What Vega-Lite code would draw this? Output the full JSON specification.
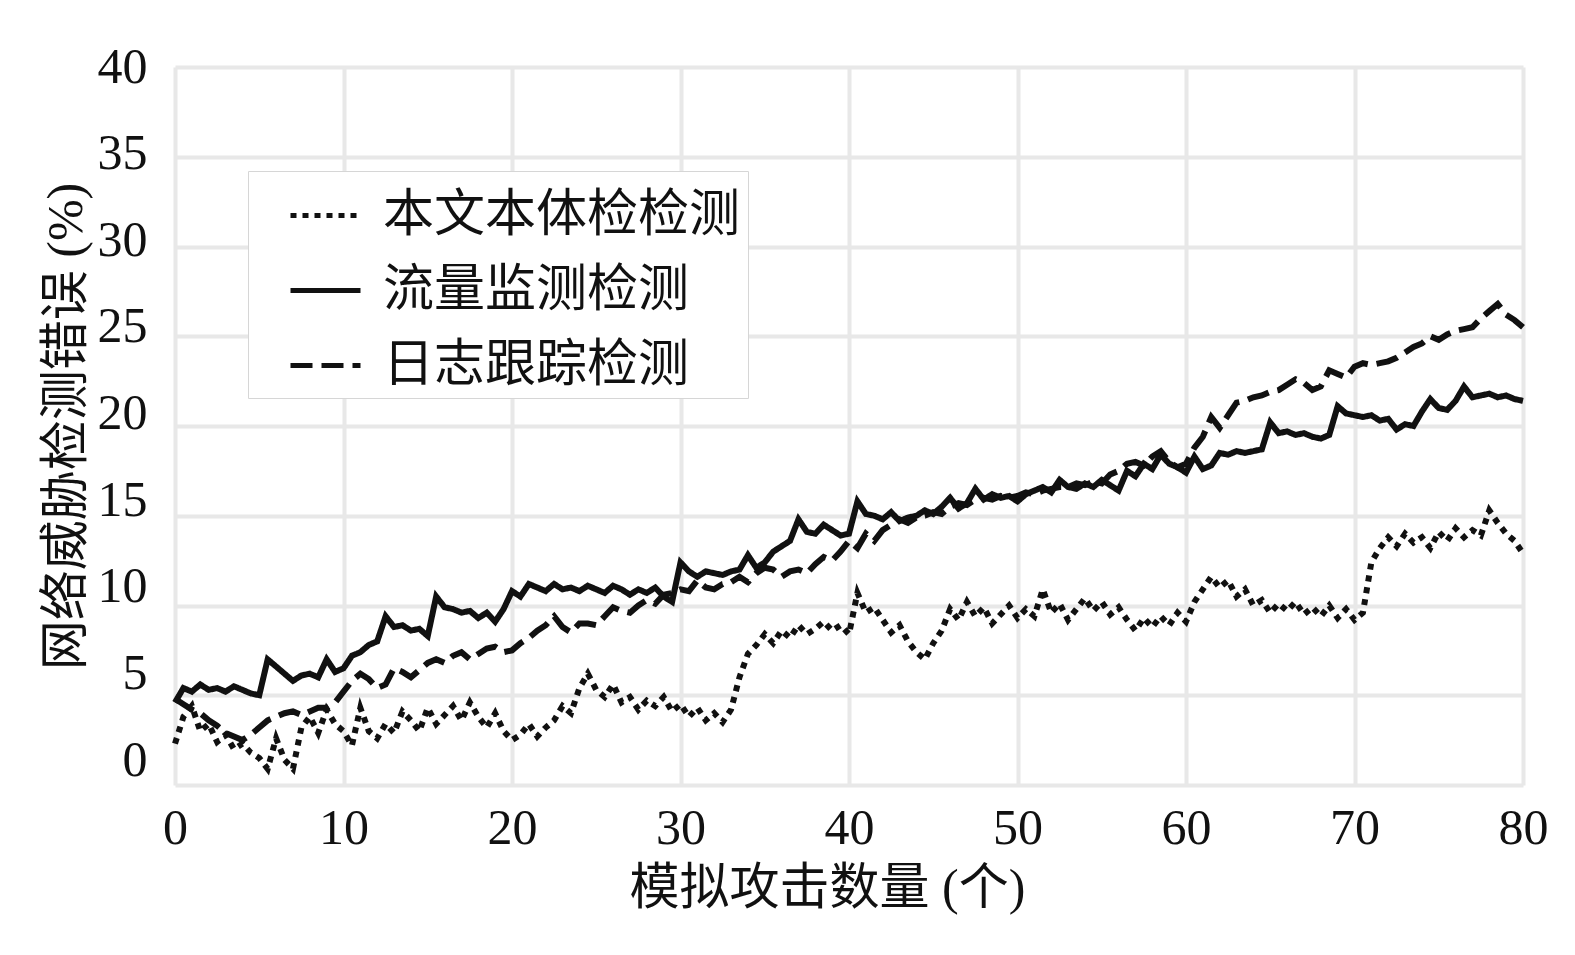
{
"$schema": "https://vega.github.io/schema/vega-lite/v6.json",
"width": 1348, "height": 718,
"autosize": {"type": "none"},
"padding": {"left": 175, "top": 67, "right": 52, "bottom": 170},
"background": "white",
"config": {"view": {"stroke": null}},
"datasets": {
"dotted": [
{"x":0,"y":2.3},{"x":0.5,"y":3.8},{"x":1,"y":4.4},{"x":1.5,"y":3.0},{"x":2,"y":3.4},{"x":2.5,"y":2.4},{"x":3,"y":2.8},{"x":3.5,"y":2.0},{"x":4,"y":2.3},{"x":4.5,"y":1.8},
{"x":5,"y":1.5},{"x":5.5,"y":0.9},{"x":6,"y":2.6},{"x":6.5,"y":1.4},{"x":7,"y":0.9},{"x":7.5,"y":3.2},{"x":8,"y":3.8},{"x":8.5,"y":2.9},{"x":9,"y":4.2},{"x":9.5,"y":3.4},
{"x":10,"y":3.0},{"x":10.5,"y":2.2},{"x":11,"y":4.3},{"x":11.5,"y":3.0},{"x":12,"y":2.6},{"x":12.5,"y":3.4},{"x":13,"y":2.9},{"x":13.5,"y":4.1},{"x":14,"y":3.6},{"x":14.5,"y":3.0},
{"x":15,"y":4.3},{"x":15.5,"y":3.4},{"x":16,"y":3.9},{"x":16.5,"y":4.4},{"x":17,"y":3.6},{"x":17.5,"y":4.6},{"x":18,"y":3.8},{"x":18.5,"y":3.2},{"x":19,"y":4.0},{"x":19.5,"y":3.0},
{"x":20,"y":2.5},{"x":20.5,"y":2.8},{"x":21,"y":3.4},{"x":21.5,"y":2.7},{"x":22,"y":3.2},{"x":22.5,"y":3.6},{"x":23,"y":4.4},{"x":23.5,"y":4.0},{"x":24,"y":5.4},{"x":24.5,"y":6.2},
{"x":25,"y":5.3},{"x":25.5,"y":4.9},{"x":26,"y":5.6},{"x":26.5,"y":4.6},{"x":27,"y":4.9},{"x":27.5,"y":4.2},{"x":28,"y":4.7},{"x":28.5,"y":4.4},{"x":29,"y":4.9},{"x":29.5,"y":4.1},
{"x":30,"y":4.5},{"x":30.5,"y":3.8},{"x":31,"y":4.3},{"x":31.5,"y":3.6},{"x":32,"y":4.0},{"x":32.5,"y":3.5},{"x":33,"y":4.2},{"x":33.5,"y":6.0},{"x":34,"y":7.3},{"x":34.5,"y":7.8},
{"x":35,"y":8.4},{"x":35.5,"y":7.9},{"x":36,"y":8.6},{"x":36.5,"y":8.2},{"x":37,"y":8.9},{"x":37.5,"y":8.4},{"x":38,"y":8.7},{"x":38.5,"y":9.1},{"x":39,"y":8.6},{"x":39.5,"y":8.9},
{"x":40,"y":8.4},{"x":40.5,"y":10.7},{"x":41,"y":9.6},{"x":41.5,"y":9.9},{"x":42,"y":9.2},{"x":42.5,"y":8.5},{"x":43,"y":8.9},{"x":43.5,"y":8.0},{"x":44,"y":7.4},{"x":44.5,"y":7.0},
{"x":45,"y":7.9},{"x":45.5,"y":8.6},{"x":46,"y":9.8},{"x":46.5,"y":9.2},{"x":47,"y":10.2},{"x":47.5,"y":9.4},{"x":48,"y":9.9},{"x":48.5,"y":9.0},{"x":49,"y":9.5},{"x":49.5,"y":10.0},
{"x":50,"y":9.3},{"x":50.5,"y":9.8},{"x":51,"y":9.4},{"x":51.5,"y":10.9},{"x":52,"y":9.6},{"x":52.5,"y":10.1},{"x":53,"y":9.2},{"x":53.5,"y":9.8},{"x":54,"y":10.4},{"x":54.5,"y":9.7},
{"x":55,"y":10.2},{"x":55.5,"y":9.5},{"x":56,"y":9.9},{"x":56.5,"y":9.2},{"x":57,"y":8.6},{"x":57.5,"y":9.3},{"x":58,"y":8.8},{"x":58.5,"y":9.4},{"x":59,"y":8.9},{"x":59.5,"y":9.6},
{"x":60,"y":9.1},{"x":60.5,"y":10.2},{"x":61,"y":10.9},{"x":61.5,"y":11.6},{"x":62,"y":11.0},{"x":62.5,"y":11.4},{"x":63,"y":10.5},{"x":63.5,"y":10.9},{"x":64,"y":10.0},{"x":64.5,"y":10.3},
{"x":65,"y":9.6},{"x":65.5,"y":10.1},{"x":66,"y":9.7},{"x":66.5,"y":10.2},{"x":67,"y":9.5},{"x":67.5,"y":9.9},{"x":68,"y":9.4},{"x":68.5,"y":10.0},{"x":69,"y":9.3},{"x":69.5,"y":9.8},
{"x":70,"y":9.2},{"x":70.5,"y":9.6},{"x":71,"y":12.4},{"x":71.5,"y":13.2},{"x":72,"y":13.8},{"x":72.5,"y":13.3},{"x":73,"y":14.0},{"x":73.5,"y":13.5},{"x":74,"y":13.8},{"x":74.5,"y":13.2},
{"x":75,"y":14.1},{"x":75.5,"y":13.6},{"x":76,"y":14.3},{"x":76.5,"y":13.8},{"x":77,"y":14.2},{"x":77.5,"y":13.9},{"x":78,"y":15.3},{"x":78.5,"y":14.6},{"x":79,"y":14.0},{"x":79.5,"y":13.6},
{"x":80,"y":12.9}
],
"solid": [
{"x":0,"y":4.6},{"x":0.5,"y":5.4},{"x":1,"y":5.2},{"x":1.5,"y":5.6},{"x":2,"y":5.3},{"x":2.5,"y":5.4},{"x":3,"y":5.2},{"x":3.5,"y":5.5},{"x":4,"y":5.3},{"x":4.5,"y":5.1},
{"x":5,"y":5.0},{"x":5.5,"y":7.0},{"x":6,"y":6.6},{"x":6.5,"y":6.2},{"x":7,"y":5.8},{"x":7.5,"y":6.1},{"x":8,"y":6.2},{"x":8.5,"y":6.0},{"x":9,"y":7.0},{"x":9.5,"y":6.3},
{"x":10,"y":6.5},{"x":10.5,"y":7.2},{"x":11,"y":7.4},{"x":11.5,"y":7.8},{"x":12,"y":8.0},{"x":12.5,"y":9.4},{"x":13,"y":8.8},{"x":13.5,"y":8.9},{"x":14,"y":8.6},{"x":14.5,"y":8.7},
{"x":15,"y":8.3},{"x":15.5,"y":10.5},{"x":16,"y":9.9},{"x":16.5,"y":9.8},{"x":17,"y":9.6},{"x":17.5,"y":9.7},{"x":18,"y":9.3},{"x":18.5,"y":9.6},{"x":19,"y":9.1},{"x":19.5,"y":9.8},
{"x":20,"y":10.8},{"x":20.5,"y":10.5},{"x":21,"y":11.2},{"x":21.5,"y":11.0},{"x":22,"y":10.8},{"x":22.5,"y":11.2},{"x":23,"y":10.9},{"x":23.5,"y":11.0},{"x":24,"y":10.8},{"x":24.5,"y":11.1},
{"x":25,"y":10.9},{"x":25.5,"y":10.7},{"x":26,"y":11.1},{"x":26.5,"y":10.9},{"x":27,"y":10.6},{"x":27.5,"y":10.9},{"x":28,"y":10.7},{"x":28.5,"y":11.0},{"x":29,"y":10.5},{"x":29.5,"y":10.2},
{"x":30,"y":12.4},{"x":30.5,"y":11.9},{"x":31,"y":11.6},{"x":31.5,"y":11.9},{"x":32,"y":11.8},{"x":32.5,"y":11.7},{"x":33,"y":11.9},{"x":33.5,"y":12.0},{"x":34,"y":12.8},{"x":34.5,"y":12.1},
{"x":35,"y":12.4},{"x":35.5,"y":13.0},{"x":36,"y":13.3},{"x":36.5,"y":13.6},{"x":37,"y":14.8},{"x":37.5,"y":14.1},{"x":38,"y":14.0},{"x":38.5,"y":14.5},{"x":39,"y":14.2},{"x":39.5,"y":13.9},
{"x":40,"y":14.0},{"x":40.5,"y":15.8},{"x":41,"y":15.1},{"x":41.5,"y":15.0},{"x":42,"y":14.8},{"x":42.5,"y":15.2},{"x":43,"y":14.7},{"x":43.5,"y":14.9},{"x":44,"y":15.0},{"x":44.5,"y":15.3},
{"x":45,"y":15.1},{"x":45.5,"y":15.5},{"x":46,"y":16.0},{"x":46.5,"y":15.4},{"x":47,"y":15.7},{"x":47.5,"y":16.5},{"x":48,"y":15.9},{"x":48.5,"y":16.2},{"x":49,"y":16.0},{"x":49.5,"y":16.1},
{"x":50,"y":15.8},{"x":50.5,"y":16.2},{"x":51,"y":16.4},{"x":51.5,"y":16.6},{"x":52,"y":16.3},{"x":52.5,"y":17.0},{"x":53,"y":16.6},{"x":53.5,"y":16.5},{"x":54,"y":16.8},{"x":54.5,"y":16.6},
{"x":55,"y":17.0},{"x":55.5,"y":16.7},{"x":56,"y":16.4},{"x":56.5,"y":17.5},{"x":57,"y":17.2},{"x":57.5,"y":17.9},{"x":58,"y":17.6},{"x":58.5,"y":18.4},{"x":59,"y":17.9},{"x":59.5,"y":17.7},
{"x":60,"y":17.4},{"x":60.5,"y":18.3},{"x":61,"y":17.6},{"x":61.5,"y":17.8},{"x":62,"y":18.5},{"x":62.5,"y":18.4},{"x":63,"y":18.6},{"x":63.5,"y":18.5},{"x":64,"y":18.6},{"x":64.5,"y":18.7},
{"x":65,"y":20.2},{"x":65.5,"y":19.6},{"x":66,"y":19.7},{"x":66.5,"y":19.5},{"x":67,"y":19.6},{"x":67.5,"y":19.4},{"x":68,"y":19.3},{"x":68.5,"y":19.5},{"x":69,"y":21.1},{"x":69.5,"y":20.7},
{"x":70,"y":20.6},{"x":70.5,"y":20.5},{"x":71,"y":20.6},{"x":71.5,"y":20.3},{"x":72,"y":20.4},{"x":72.5,"y":19.8},{"x":73,"y":20.1},{"x":73.5,"y":20.0},{"x":74,"y":20.8},{"x":74.5,"y":21.5},
{"x":75,"y":21.0},{"x":75.5,"y":20.9},{"x":76,"y":21.4},{"x":76.5,"y":22.2},{"x":77,"y":21.6},{"x":77.5,"y":21.7},{"x":78,"y":21.8},{"x":78.5,"y":21.6},{"x":79,"y":21.7},{"x":79.5,"y":21.5},
{"x":80,"y":21.4}
],
"dashed": [
{"x":0,"y":4.8},{"x":0.5,"y":4.5},{"x":1,"y":4.2},{"x":1.5,"y":4.0},{"x":2,"y":3.6},{"x":2.5,"y":3.3},{"x":3,"y":2.9},{"x":3.5,"y":2.7},{"x":4,"y":2.5},{"x":4.5,"y":2.8},
{"x":5,"y":3.2},{"x":5.5,"y":3.6},{"x":6,"y":3.8},{"x":6.5,"y":4.0},{"x":7,"y":4.1},{"x":7.5,"y":3.9},{"x":8,"y":4.1},{"x":8.5,"y":4.3},{"x":9,"y":4.3},{"x":9.5,"y":4.6},
{"x":10,"y":5.2},{"x":10.5,"y":5.8},{"x":11,"y":6.2},{"x":11.5,"y":5.9},{"x":12,"y":5.4},{"x":12.5,"y":5.6},{"x":13,"y":6.5},{"x":13.5,"y":6.3},{"x":14,"y":6.0},{"x":14.5,"y":6.4},
{"x":15,"y":6.8},{"x":15.5,"y":7.0},{"x":16,"y":6.8},{"x":16.5,"y":7.2},{"x":17,"y":7.4},{"x":17.5,"y":7.0},{"x":18,"y":7.3},{"x":18.5,"y":7.6},{"x":19,"y":7.7},{"x":19.5,"y":7.4},
{"x":20,"y":7.5},{"x":20.5,"y":7.9},{"x":21,"y":8.2},{"x":21.5,"y":8.6},{"x":22,"y":8.9},{"x":22.5,"y":9.4},{"x":23,"y":8.8},{"x":23.5,"y":8.5},{"x":24,"y":9.0},{"x":24.5,"y":9.0},
{"x":25,"y":8.9},{"x":25.5,"y":9.4},{"x":26,"y":9.9},{"x":26.5,"y":9.7},{"x":27,"y":9.6},{"x":27.5,"y":10.0},{"x":28,"y":10.3},{"x":28.5,"y":10.1},{"x":29,"y":10.6},{"x":29.5,"y":10.7},
{"x":30,"y":10.9},{"x":30.5,"y":10.8},{"x":31,"y":11.4},{"x":31.5,"y":11.0},{"x":32,"y":10.9},{"x":32.5,"y":11.2},{"x":33,"y":11.3},{"x":33.5,"y":11.6},{"x":34,"y":11.3},{"x":34.5,"y":11.8},
{"x":35,"y":12.1},{"x":35.5,"y":12.0},{"x":36,"y":11.6},{"x":36.5,"y":11.9},{"x":37,"y":12.0},{"x":37.5,"y":11.8},{"x":38,"y":12.3},{"x":38.5,"y":12.7},{"x":39,"y":12.5},{"x":39.5,"y":13.0},
{"x":40,"y":13.6},{"x":40.5,"y":13.2},{"x":41,"y":14.0},{"x":41.5,"y":13.6},{"x":42,"y":14.2},{"x":42.5,"y":14.5},{"x":43,"y":14.8},{"x":43.5,"y":14.6},{"x":44,"y":14.9},{"x":44.5,"y":15.0},
{"x":45,"y":15.2},{"x":45.5,"y":15.1},{"x":46,"y":15.5},{"x":46.5,"y":15.7},{"x":47,"y":15.6},{"x":47.5,"y":15.9},{"x":48,"y":16.0},{"x":48.5,"y":15.9},{"x":49,"y":16.1},{"x":49.5,"y":16.0},
{"x":50,"y":16.1},{"x":50.5,"y":16.3},{"x":51,"y":16.2},{"x":51.5,"y":16.4},{"x":52,"y":16.5},{"x":52.5,"y":16.6},{"x":53,"y":16.6},{"x":53.5,"y":16.8},{"x":54,"y":16.7},{"x":54.5,"y":16.9},
{"x":55,"y":16.8},{"x":55.5,"y":17.3},{"x":56,"y":17.5},{"x":56.5,"y":17.9},{"x":57,"y":18.0},{"x":57.5,"y":17.8},{"x":58,"y":18.3},{"x":58.5,"y":18.6},{"x":59,"y":18.0},{"x":59.5,"y":17.7},
{"x":60,"y":17.9},{"x":60.5,"y":18.8},{"x":61,"y":19.4},{"x":61.5,"y":20.5},{"x":62,"y":19.9},{"x":62.5,"y":20.6},{"x":63,"y":21.3},{"x":63.5,"y":21.4},{"x":64,"y":21.6},{"x":64.5,"y":21.7},
{"x":65,"y":21.9},{"x":65.5,"y":22.0},{"x":66,"y":22.3},{"x":66.5,"y":22.6},{"x":67,"y":22.4},{"x":67.5,"y":22.0},{"x":68,"y":22.2},{"x":68.5,"y":23.1},{"x":69,"y":22.9},{"x":69.5,"y":22.7},
{"x":70,"y":23.3},{"x":70.5,"y":23.5},{"x":71,"y":23.4},{"x":71.5,"y":23.5},{"x":72,"y":23.6},{"x":72.5,"y":23.8},{"x":73,"y":24.1},{"x":73.5,"y":24.4},{"x":74,"y":24.6},{"x":74.5,"y":25.0},
{"x":75,"y":24.8},{"x":75.5,"y":25.1},{"x":76,"y":25.3},{"x":76.5,"y":25.4},{"x":77,"y":25.5},{"x":77.5,"y":26.0},{"x":78,"y":26.4},{"x":78.5,"y":26.8},{"x":79,"y":26.2},{"x":79.5,"y":25.9},
{"x":80,"y":25.5}
]
},
"encoding": {
"x": {"field": "x", "type": "quantitative",
 "scale": {"domain": [0, 80], "nice": false, "zero": false},
 "axis": {"values": [0,10,20,30,40,50,60,70,80], "grid": true, "gridColor": "#e8e8e8", "gridWidth": 4,
  "domain": false, "ticks": false, "labelFlush": false,
  "labelFont": "Liberation Serif", "labelFontSize": 50, "labelColor": "#111", "labelPadding": 18,
  "title": "模拟攻击数量 (个)", "titleFont": "Liberation Serif, Noto Sans CJK SC", "titleFontSize": 50,
  "titleFontWeight": "normal", "titleColor": "#111", "titlePadding": 10, "titleX": 652}},
"y": {"field": "y", "type": "quantitative",
 "scale": {"domain": [0, 40], "nice": false},
 "axis": {"values": [0,5,10,15,20,25,30,35,40], "grid": true, "gridColor": "#e8e8e8", "gridWidth": 4,
  "domain": false, "ticks": false, "labelFlush": false,
  "labelFont": "Liberation Serif", "labelFontSize": 50, "labelColor": "#111", "labelPadding": 28,
  "labelOffset": {"expr": "-(40 - datum.value) * 0.62"},
  "title": "网络威胁检测错误 (%)", "titleFont": "Liberation Serif, Noto Sans CJK SC", "titleFontSize": 50,
  "titleFontWeight": "normal", "titleColor": "#111", "titlePadding": 6}}
},
"layer": [
{"data": {"name": "solid"}, "mark": {"type": "line", "strokeWidth": 6, "color": "#111"},
 "encoding": {"strokeDash": {"datum": "流量监测检测", "type": "nominal",
  "scale": {"domain": ["本文本体检检测", "流量监测检测", "日志跟踪检测"], "range": [[6, 6], [1, 0], [22, 9]]},
  "legend": {"orient": "none", "legendX": 73, "legendY": 104, "title": null,
   "labelFont": "Noto Sans CJK SC", "labelFontSize": 51, "labelColor": "#111",
   "symbolType": "stroke", "symbolSize": 4900, "symbolStrokeWidth": 5, "symbolStrokeColor": "#111",
   "fillColor": "white", "strokeColor": "#d6d6d6", "padding": 7, "rowPadding": 12,
   "symbolOffset": 33, "labelOffset": 20, "labelLimit": 0}}}},
{"data": {"name": "dashed"}, "mark": {"type": "line", "strokeWidth": 6, "color": "#111"},
 "encoding": {"strokeDash": {"datum": "日志跟踪检测", "type": "nominal"}}},
{"data": {"name": "dotted"}, "mark": {"type": "line", "strokeWidth": 6, "color": "#111"},
 "encoding": {"strokeDash": {"datum": "本文本体检检测", "type": "nominal"}}}
]
}
